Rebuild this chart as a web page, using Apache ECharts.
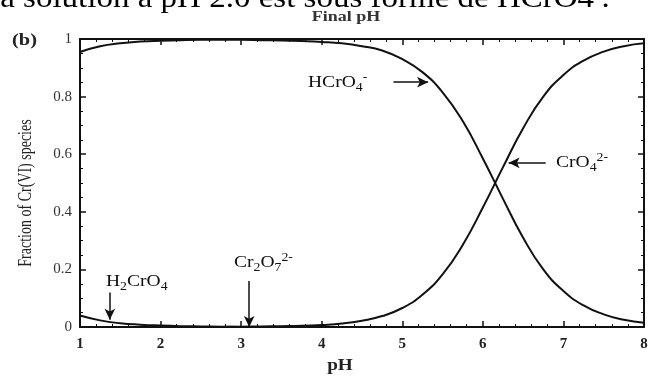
<!DOCTYPE html>
<html>
<head>
<meta charset="utf-8">
<script src="https://cdn.jsdelivr.net/npm/echarts@6/dist/echarts.min.js"></script>
<style>
  html, body { margin: 0; padding: 0; background: #fff; }
  #main { width: 656px; height: 378px; }
</style>
</head>
<body>
<div id="main"></div>
<script>
// pH grid and species fractions
var ph = [1, 1.25, 1.5, 1.75, 2, 2.25, 2.5, 2.75, 3, 3.25, 3.5, 3.75, 4, 4.25, 4.5,
  4.75, 5, 5.25, 5.5, 5.75, 6, 6.25, 6.5, 6.75, 7, 7.25, 7.5, 7.75, 8];
var hcro4 = [0.955, 0.975, 0.985, 0.991, 0.994, 0.996, 0.997, 0.997, 0.997, 0.996, 0.995, 0.993, 0.99, 0.985, 0.975,
  0.96, 0.93, 0.885, 0.815, 0.715, 0.585, 0.445, 0.31, 0.2, 0.125, 0.075, 0.044, 0.025, 0.015];
var cro4 = [0, 0, 0, 0, 0, 0, 0, 0, 0.001, 0.002, 0.003, 0.004, 0.007, 0.012, 0.022,
  0.038, 0.066, 0.112, 0.183, 0.285, 0.415, 0.555, 0.69, 0.8, 0.875, 0.925, 0.956, 0.975, 0.985];
var h2cro4 = [0.04, 0.023, 0.013, 0.008, 0.005, 0.003, 0.002, 0.001, 0, 0, 0, 0, 0, 0, 0,
  0, 0, 0, 0, 0, 0, 0, 0, 0, 0, 0, 0, 0, 0];
// arrows: [x0, y0, x1, y1] in data units, head at the second point
var arrows = [[4.89, 0.85, 5.32, 0.85], [6.78, 0.57, 6.32, 0.57], [1.37, 0.12, 1.37, 0.025], [3.1, 0.16, 3.1, 0.0]];

var serif = '"Liberation Serif", "DejaVu Serif", serif';
var ink = '#111';

function pairs(ys) {
  return ph.map(function (x, i) { return [x, ys[i]]; });
}

function xAx(pos, labels) {
  return {
    type: 'value', min: 1, max: 8, interval: 1, position: pos,
    axisLine: { onZero: false, lineStyle: { color: ink, width: 2 } },
    axisTick: { inside: true, length: 6, lineStyle: { color: ink, width: 1.5 } },
    minorTick: { show: true, splitNumber: 5, length: 3, lineStyle: { color: ink, width: 1 } },
    splitLine: { show: false },
    axisLabel: { show: labels, color: '#222', fontFamily: serif, fontWeight: 'bold', fontSize: 15, margin: 10 }
  };
}
function yAx(pos, labels) {
  return {
    type: 'value', min: 0, max: 1, interval: 0.2, position: pos,
    axisLine: { onZero: false, lineStyle: { color: ink, width: 2 } },
    axisTick: { inside: true, length: 6, lineStyle: { color: ink, width: 1.5 } },
    minorTick: { show: true, splitNumber: 4, length: 3, lineStyle: { color: ink, width: 1 } },
    splitLine: { show: false },
    axisLabel: { show: labels, color: '#333', fontFamily: serif, fontSize: 15, margin: 8 }
  };
}

function curve(name, ys, extra) {
  var s = {
    name: name, type: 'line', data: pairs(ys), smooth: true, showSymbol: false, silent: true,
    lineStyle: { color: ink, width: 2 }
  };
  return Object.assign(s, extra || {});
}

// rich styles for chemical formulas
var rich = {
  m: { fontSize: 17, lineHeight: 22, fontFamily: serif, fill: ink },
  s: { fontSize: 12, lineHeight: 12, fontFamily: serif, fill: ink, verticalAlign: 'bottom' },
  p: { fontSize: 12, lineHeight: 12, fontFamily: serif, fill: ink, verticalAlign: 'top' }
};
function formula(txt, x, y) {
  return { type: 'text', x: x, y: y, silent: true, scaleX: 1.15,
    style: { text: txt, rich: rich, verticalAlign: 'middle', align: 'left' } };
}

var chart = echarts.init(document.getElementById('main'), null, { renderer: 'canvas' });
chart.setOption({
  animation: false,
  backgroundColor: '#fff',
  grid: { left: 80, right: 12, top: 39, bottom: 51 },
  xAxis: [xAx('bottom', true), xAx('top', false)],
  yAxis: [yAx('left', true), yAx('right', false)],
  series: [
    curve('HCrO4-', hcro4, {
      markLine: {
        silent: true, symbol: ['none', 'arrow'], symbolSize: [8, 11],
        label: { show: false },
        lineStyle: { color: ink, width: 1.5, type: 'solid' },
        data: arrows.map(function (a) { return [{ coord: [a[0], a[1]] }, { coord: [a[2], a[3]] }]; })
      }
    }),
    curve('CrO4 2-', cro4),
    curve('H2CrO4', h2cro4)
  ],
  graphic: [
    { type: 'text', x: -9, y: -1, silent: true, scaleX: 1.1,
      style: { text: 'la solution à pH 2.0 est sous forme de HCrO4{p|-}.', fontSize: 30, fontFamily: serif, fill: '#000', verticalAlign: 'middle',
        rich: { p: { fontSize: 20, fontFamily: serif, fill: '#000', verticalAlign: 'top' } } } },
    { type: 'text', x: 346, y: 17, silent: true, scaleX: 1.2,
      style: { text: 'Final pH', fontSize: 15, fontWeight: 'bold', fontFamily: serif, fill: '#333', align: 'center', verticalAlign: 'middle' } },
    { type: 'text', x: 12, y: 41, silent: true, scaleX: 1.2,
      style: { text: '(b)', fontSize: 17, fontWeight: 'bold', fontFamily: serif, fill: '#222', verticalAlign: 'middle' } },
    { type: 'text', x: 26, y: 193, rotation: Math.PI / 2, scaleY: 1.3, silent: true,
      style: { text: 'Fraction of Cr(VI) species', fontSize: 14, fontFamily: serif, fill: '#222', align: 'center', verticalAlign: 'middle' } },
    { type: 'text', x: 340, y: 366, silent: true, scaleX: 1.2,
      style: { text: 'pH', fontSize: 16, fontWeight: 'bold', fontFamily: serif, fill: '#222', align: 'center', verticalAlign: 'middle' } },
    formula('{m|HCrO}{s|4}{p|-}', 308, 83),
    formula('{m|CrO}{s|4}{p|2-}', 556, 163),
    formula('{m|H}{s|2}{m|CrO}{s|4}', 106, 282),
    formula('{m|Cr}{s|2}{m|O}{s|7}{p|2-}', 234, 263)
  ]
});
</script>
</body>
</html>
